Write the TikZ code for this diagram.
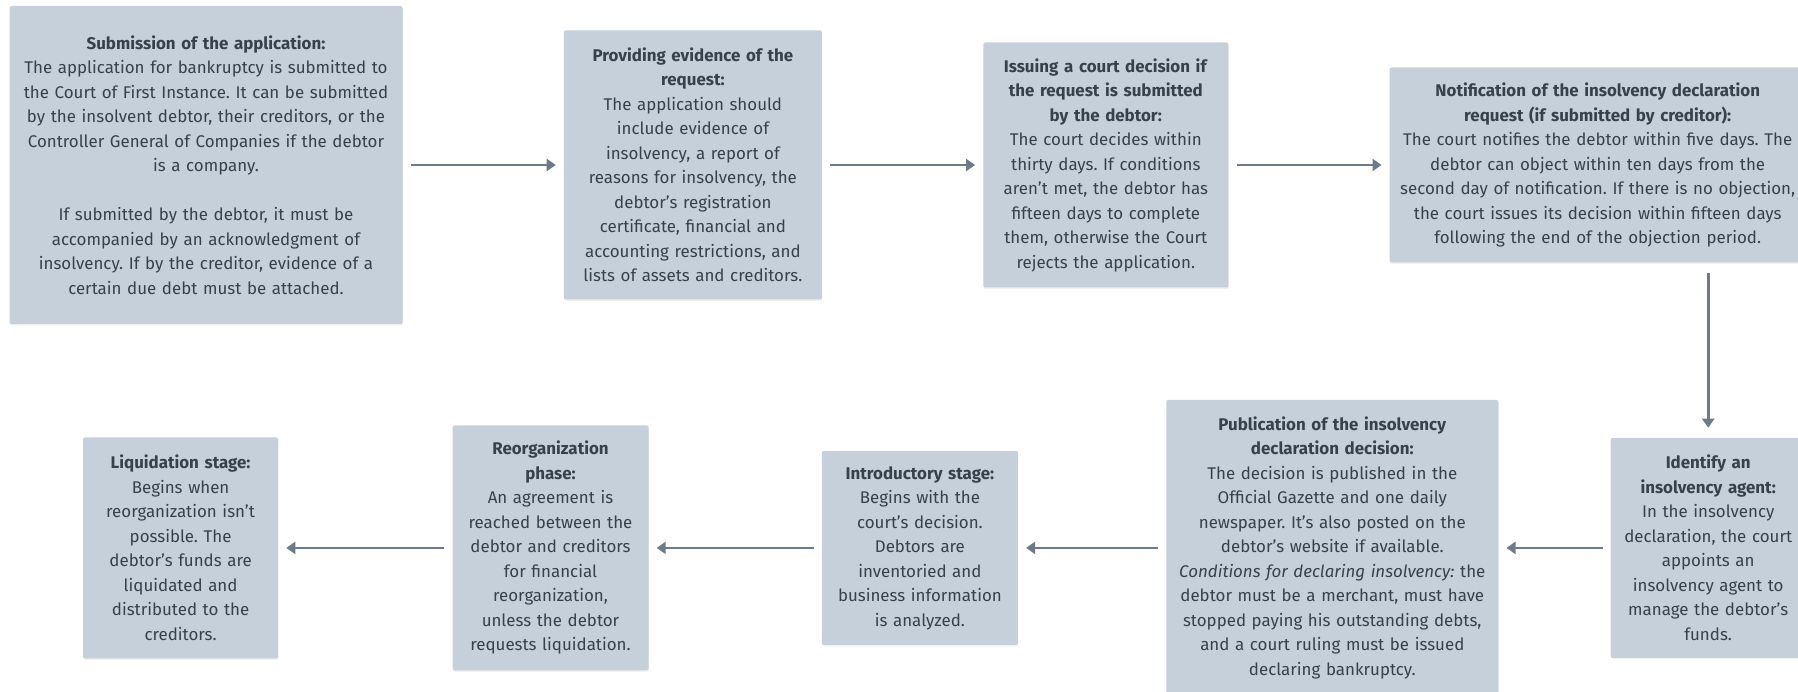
\documentclass[tikz,border=0pt]{standalone}
\usepackage{fontspec}
\setmainfont{Fira Sans}
\usepackage{xcolor}
\usepackage{tikz}
\usetikzlibrary{arrows.meta, positioning, shadows}

\definecolor{boxfill}{HTML}{C5D0DA}
\definecolor{boxtext}{HTML}{36414D}
\definecolor{arrowgray}{HTML}{6C7A89}

\frenchspacing
\begin{document}
\begin{tikzpicture}[
    box/.style={fill=boxfill, rounded corners=2pt, inner sep=0pt, align=center,
        text=boxtext, font=\fontsize{16.9pt}{24.5pt}\selectfont,
        drop shadow={opacity=0.12, shadow xshift=0.5pt, shadow yshift=-1.5pt}},
    arrow/.style={-{Triangle[length=9pt, width=12pt]}, line width=2.8pt, draw=arrowgray,
        shorten <=8pt, shorten >=8pt}
]
    \useasboundingbox (0pt,0pt) rectangle (1798pt,-692pt);

    % top row, left to right
    \node[box, text width=393pt, minimum height=318pt] (submit) at (206pt,-165pt)
        {\textbf{Submission of the application:}\\
         The application for bankruptcy is submitted to\\
         the Court of First Instance. It can be submitted\\
         by the insolvent debtor, their creditors, or the\\
         Controller General of Companies if the debtor\\
         is a company.\\[24.5pt]
         If submitted by the debtor, it must be\\
         accompanied by an acknowledgment of\\
         insolvency. If by the creditor, evidence of a\\
         certain due debt must be attached.};
    \node[box, text width=258pt, minimum height=269pt, right=161pt of submit] (evidence)
        {\textbf{Providing evidence of the}\\
         \textbf{request:}\\
         The application should\\
         include evidence of\\
         insolvency, a report of\\
         reasons for insolvency, the\\
         debtor’s registration\\
         certificate, financial and\\
         accounting restrictions, and\\
         lists of assets and creditors.};
    \node[box, text width=245pt, minimum height=245pt, right=161pt of evidence] (issue)
        {\textbf{Issuing a court decision if}\\
         \textbf{the request is submitted}\\
         \textbf{by the debtor:}\\
         The court decides within\\
         thirty days. If conditions\\
         aren’t met, the debtor has\\
         fifteen days to complete\\
         them, otherwise the Court\\
         rejects the application.};
    \node[box, text width=416pt, minimum height=195pt, right=161pt of issue] (notif)
        {\textbf{Notification of the insolvency declaration}\\
         \textbf{request (if submitted by creditor):}\\
         The court notifies the debtor within five days. The\\
         debtor can object within ten days from the\\
         second day of notification. If there is no objection,\\
         the court issues its decision within fifteen days\\
         following the end of the objection period.};

    % bottom row, right to left
    \node[box, text width=195pt, minimum height=220pt,
          below=175pt of notif.south east, anchor=north east] (agent)
        {\textbf{Identify an}\\
         \textbf{insolvency agent:}\\
         In the insolvency\\
         declaration, the court\\
         appoints an\\
         insolvency agent to\\
         manage the debtor’s\\
         funds.};
    \node[box, text width=332pt, minimum height=296pt, left=112pt of agent] (publish)
        {\textbf{Publication of the insolvency}\\
         \textbf{declaration decision:}\\
         The decision is published in the\\
         Official Gazette and one daily\\
         newspaper. It’s also posted on the\\
         debtor’s website if available.\\
         \textit{Conditions for declaring insolvency:} the\\
         debtor must be a merchant, must have\\
         stopped paying his outstanding debts,\\
         and a court ruling must be issued\\
         declaring bankruptcy.};
    \node[box, text width=196pt, minimum height=194pt, left=148pt of publish] (intro)
        {\textbf{Introductory stage:}\\
         Begins with the\\
         court’s decision.\\
         Debtors are\\
         inventoried and\\
         business information\\
         is analyzed.};
    \node[box, text width=196pt, minimum height=245pt, left=173pt of intro] (reorg)
        {\textbf{Reorganization}\\
         \textbf{phase:}\\
         An agreement is\\
         reached between the\\
         debtor and creditors\\
         for financial\\
         reorganization,\\
         unless the debtor\\
         requests liquidation.};
    \node[box, text width=195pt, minimum height=221pt, left=174pt of reorg] (liquid)
        {\textbf{Liquidation stage:}\\
         Begins when\\
         reorganization isn’t\\
         possible. The\\
         debtor’s funds are\\
         liquidated and\\
         distributed to the\\
         creditors.};

    \draw[arrow] (submit) -- (evidence);
    \draw[arrow] (evidence) -- (issue);
    \draw[arrow] (issue) -- (notif);
    \draw[arrow, shorten <=10pt, shorten >=10pt] (agent.north |- notif.south) -- (agent.north);
    \draw[arrow] (agent) -- (publish);
    \draw[arrow] (publish) -- (intro);
    \draw[arrow] (intro) -- (reorg);
    \draw[arrow] (reorg) -- (liquid);
\end{tikzpicture}
\end{document}
